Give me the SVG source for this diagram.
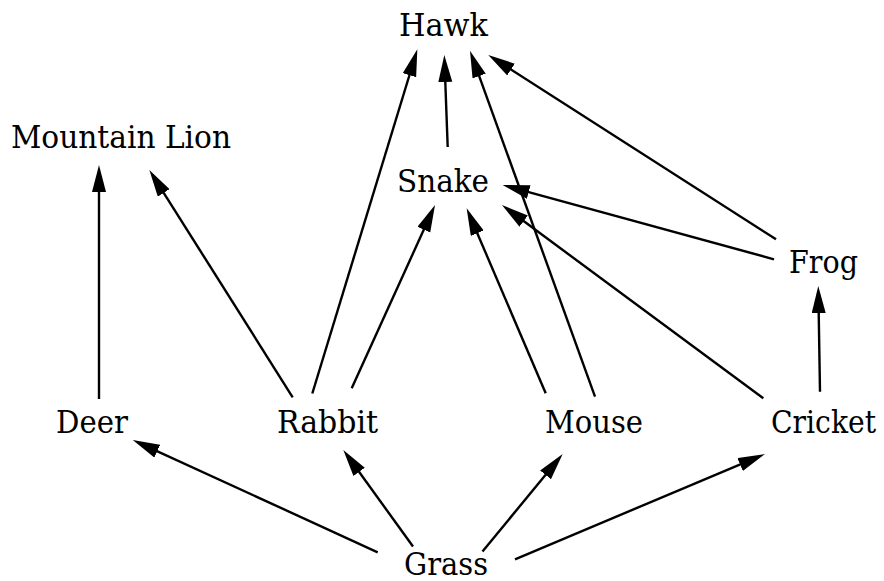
<svg xmlns="http://www.w3.org/2000/svg" width="884" height="581" viewBox="0 0 884 581">
<style>
  .lbl { font-family: "DejaVu Serif", "Liberation Serif", serif; font-size: 31px; fill: #000; }
  .edge { stroke: #000; stroke-width: 2.4; fill: none; }
</style>
<defs>
  <marker id="ah" markerUnits="userSpaceOnUse" markerWidth="28" markerHeight="15" refX="19" refY="7" orient="auto">
    <path d="M0,0 L27,7 L0,14 Z" fill="#000"/>
  </marker>
</defs>
<rect width="884" height="581" fill="#fff"/>
<g id="edges">
  <line class="edge" marker-end="url(#ah)" x1="99" y1="399" x2="99" y2="173"/>
  <line class="edge" marker-end="url(#ah)" x1="292.7" y1="397.3" x2="153.6" y2="176.8"/>
  <line class="edge" marker-end="url(#ah)" x1="312.3" y1="393.5" x2="415.0" y2="57.0"/>
  <line class="edge" marker-end="url(#ah)" x1="351.7" y1="388.3" x2="431.7" y2="212.3"/>
  <line class="edge" marker-end="url(#ah)" x1="447.7" y1="147" x2="444.6" y2="63"/>
  <line class="edge" marker-end="url(#ah)" x1="545.7" y1="393.3" x2="469.8" y2="215.7"/>
  <line class="edge" marker-end="url(#ah)" x1="595" y1="396.7" x2="472.7" y2="58.2"/>
  <line class="edge" marker-end="url(#ah)" x1="763.3" y1="398.3" x2="508.4" y2="209.8"/>
  <line class="edge" marker-end="url(#ah)" x1="820" y1="391.7" x2="818.4" y2="294"/>
  <line class="edge" marker-end="url(#ah)" x1="774" y1="259.3" x2="510.4" y2="187.1"/>
  <line class="edge" marker-end="url(#ah)" x1="776" y1="239.3" x2="495.0" y2="59.3"/>
  <line class="edge" marker-end="url(#ah)" x1="377.7" y1="552.3" x2="140.0" y2="443.3"/>
  <line class="edge" marker-end="url(#ah)" x1="413" y1="546.5" x2="348.0" y2="456.5"/>
  <line class="edge" marker-end="url(#ah)" x1="482.5" y1="551.5" x2="557.6" y2="460.2"/>
  <line class="edge" marker-end="url(#ah)" x1="515" y1="559.3" x2="757.6" y2="457.1"/>
</g>
<g id="hawk"><text class="lbl" x="399" y="36" textLength="89" lengthAdjust="spacingAndGlyphs">Hawk</text></g>
<g id="mountain-lion"><text class="lbl" x="11" y="148" textLength="220" lengthAdjust="spacingAndGlyphs">Mountain Lion</text></g>
<g id="snake"><text class="lbl" x="397" y="192" textLength="92" lengthAdjust="spacingAndGlyphs">Snake</text></g>
<g id="frog"><text class="lbl" x="789" y="273" textLength="69" lengthAdjust="spacingAndGlyphs">Frog</text></g>
<g id="deer"><text class="lbl" x="56" y="433" textLength="72" lengthAdjust="spacingAndGlyphs">Deer</text></g>
<g id="rabbit"><text class="lbl" x="277" y="433" textLength="101" lengthAdjust="spacingAndGlyphs">Rabbit</text></g>
<g id="mouse"><text class="lbl" x="545" y="433" textLength="98" lengthAdjust="spacingAndGlyphs">Mouse</text></g>
<g id="cricket"><text class="lbl" x="771" y="433" textLength="105" lengthAdjust="spacingAndGlyphs">Cricket</text></g>
<g id="grass"><text class="lbl" x="404" y="575" textLength="84" lengthAdjust="spacingAndGlyphs">Grass</text></g>
</svg>
